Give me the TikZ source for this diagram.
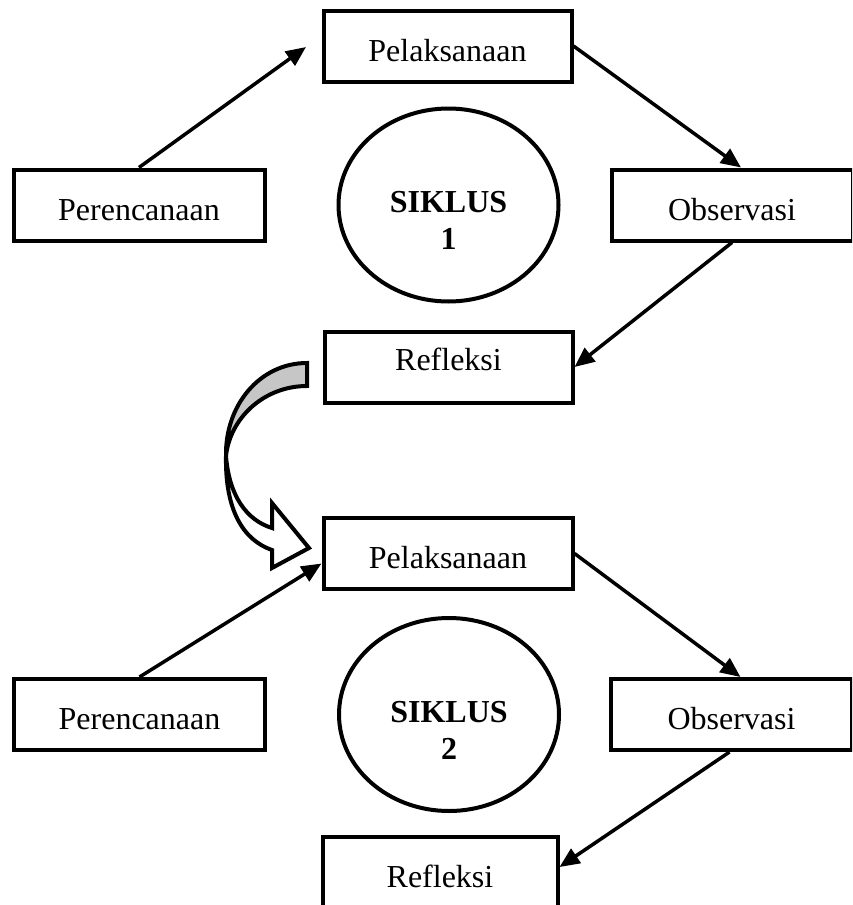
\documentclass[tikz,border=0pt]{standalone}
\usepackage{fontspec}
\setmainfont{Liberation Serif}
\usetikzlibrary{arrows.meta,positioning,shapes.geometric}
\tikzset{
  kotak/.style={rectangle, draw, line width=4pt, minimum width=#1, minimum height=71pt,
                inner sep=0pt, text height=30pt, text depth=0pt},
  siklus/.style={ellipse, draw, line width=4pt, minimum width=220pt, minimum height=193pt,
                 inner sep=0pt, align=center, font=\fontsize{32}{37}\selectfont\bfseries},
  arr/.style={-{Triangle[length=20pt,width=17pt]}, line width=3.5pt},
  blok/.style={draw=black, line width=4pt, line join=miter},
}
\newcommand{\turun}{\rule{0pt}{52pt}}

\begin{document}
\begin{tikzpicture}[x=1pt, y=-1pt, font=\fontsize{32}{37}\selectfont]
  \clip (0,0) rectangle (852,905);
  % siklus 1
  \node[siklus] (s1) at (448.5,205) {\turun SIKLUS\\1};
  \node[kotak=248pt] (p1) at (447.5,46) {Pelaksanaan};
  \node[kotak=251pt, left=70pt of s1] (r1) {Perencanaan};
  \node[kotak=241pt, right=49pt of s1] (o1) {Observasi};
  \node[kotak=248pt, text height=6pt, below=26pt of s1] (f1) {Refleksi};
  \coordinate (u1) at (306,47);
  \draw[arr] (r1.north) -- (u1); \draw[arr] (p1.east) -- ([xshift=9pt]o1.north); \draw[arr] (o1.south) -- (f1.east);
  % siklus 2
  \node[siklus] (s2) at (449,714.5) {\turun SIKLUS\\2};
  \node[kotak=249pt] (p2) at (448,553.5) {Pelaksanaan};
  \node[kotak=251pt, left=70pt of s2] (r2) {Perencanaan};
  \node[kotak=241pt, right=48pt of s2] (o2) {Observasi};
  \node[kotak=235pt] (f2) at (440,872) {Refleksi};
  \draw[arr] (r2.north) -- ([yshift=-10pt]p2.west); \draw[arr] (p2.east) -- ([xshift=9pt]o2.north); \draw[arr] ([xshift=-2pt]o2.south) -- ([yshift=5pt]f2.east);
  % panah lengkung dari refleksi ke pelaksanaan
  \draw[blok, fill=white] (226,456) .. controls (225,510) and (243,540) .. (272,550) -- (272,568) -- (309,548)
    -- (272,503) -- (272,528) .. controls (246,520) and (229,495) .. (226,456) -- cycle;
  \draw[blok, fill=gray!45] (307,363) .. controls (260,363) and (225,405) .. (226,456)
    .. controls (230,418) and (264,386) .. (307,386) -- cycle;
\end{tikzpicture}
\end{document}
